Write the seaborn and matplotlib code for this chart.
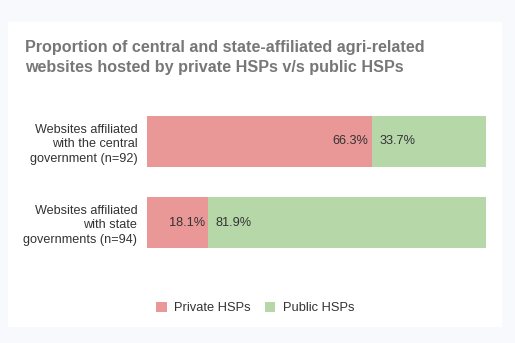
import matplotlib
matplotlib.use("Agg")
import matplotlib.pyplot as plt
from matplotlib.patches import Patch, Rectangle
import seaborn as sns
import pandas as pd

categories = [
    "Websites affiliated\nwith the central\ngovernment (n=92)",
    "Websites affiliated\nwith state\ngovernments (n=94)",
]
private_pct = [66.3, 18.1]
public_pct = [33.7, 81.9]
series_names = ["Private HSPs", "Public HSPs"]
title = ("Proportion of central and state-affiliated agri-related\n"
         "websites hosted by private HSPs v/s public HSPs")

private_color = "#e99797"
public_color = "#b6d7a8"

sns.set_theme(style="white")
plt.rcParams["font.family"] = ["Liberation Sans", "DejaVu Sans"]

df = pd.DataFrame({"category": categories,
                   "private": private_pct,
                   "public": public_pct})
df["total"] = df["private"] + df["public"]

fig = plt.figure(figsize=(5.15, 3.43), dpi=100)
fig.patch.set_facecolor("#f8f9fc")
# white card behind the chart
card = Rectangle((8 / 515, 1 - 327 / 343), (502 - 8) / 515, (327 - 22) / 343,
                 transform=fig.transFigure, facecolor="white", edgecolor="none",
                 zorder=-10)
fig.patches.append(card)

ax = fig.add_axes([147 / 515, 1 - 263 / 343, (486 - 147) / 515, (263 - 101) / 343])
ax.set_facecolor("none")
ax.set_zorder(5)

sns.barplot(data=df, y="category", x="total", orient="h", color=public_color,
            width=0.63, ax=ax, saturation=1, linewidth=0)
sns.barplot(data=df, y="category", x="private", orient="h", color=private_color,
            width=0.63, ax=ax, saturation=1, linewidth=0)

ax.set_xlim(0, 100)
ax.set_ylim(1.5, -0.5)
ax.set_xlabel("")
ax.set_ylabel("")
ax.set_xticks([])
for s in ax.spines.values():
    s.set_visible(False)
ax.tick_params(axis="y", length=0, pad=7)
ax.set_yticks(range(len(categories)))
ax.set_yticklabels(categories, fontsize=9.1, color="#333333", linespacing=1.3,
                   ha="right")

for i, (p, q) in enumerate(zip(private_pct, public_pct)):
    ax.text(p - 0.9, i, f"{p:.1f}%", ha="right", va="center",
            fontsize=9.2, color="#333333")
    ax.text(p + 2.2, i, f"{q:.1f}%", ha="left", va="center",
            fontsize=9.2, color="#333333")

fig.text(25 / 515, 1 - 40 / 343, title, ha="left", va="top",
         fontsize=11.6, fontweight="bold", color="#777777", linespacing=1.42)

handles = [Patch(facecolor=private_color, edgecolor="none"),
           Patch(facecolor=public_color, edgecolor="none")]
fig.legend(handles, series_names, loc="center", ncol=2,
           bbox_to_anchor=(255.5 / 515, 1 - 308 / 343), frameon=False,
           fontsize=9.3, handlelength=0.8, handleheight=0.8,
           handletextpad=0.6, columnspacing=1.1, labelcolor="#333333")

fig.savefig("out.png", dpi=100, facecolor=fig.get_facecolor())
